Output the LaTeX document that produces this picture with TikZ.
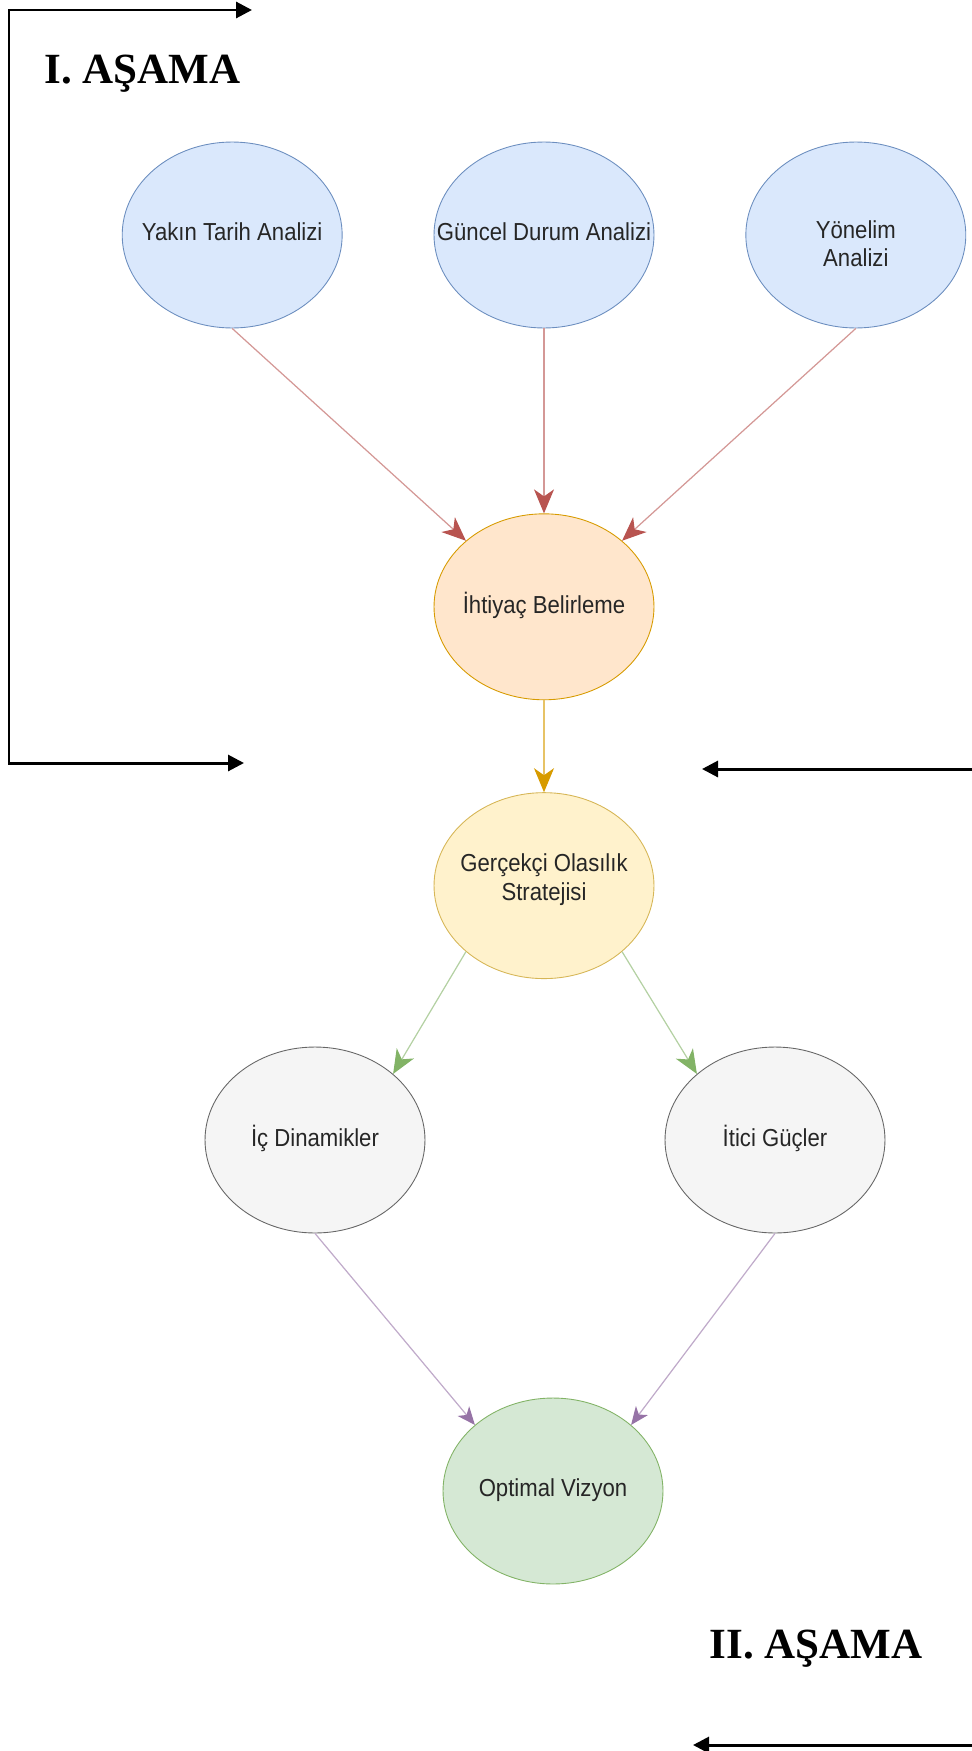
\documentclass[tikz,border=0pt]{standalone}
\usepackage{fontspec}
\setmainfont{Liberation Serif}
\newfontfamily\drawiofont[FakeStretch=0.9]{Liberation Sans}
\usetikzlibrary{positioning,arrows.meta,shapes.geometric}
\definecolor{blueFill}{HTML}{DAE8FC}
\definecolor{blueStroke}{HTML}{6C8EBF}
\definecolor{orangeFill}{HTML}{FFE6CC}
\definecolor{orangeStroke}{HTML}{D79B00}
\definecolor{yellowFill}{HTML}{FFF2CC}
\definecolor{yellowStroke}{HTML}{D6B656}
\definecolor{grayFill}{HTML}{F5F5F5}
\definecolor{grayStroke}{HTML}{666666}
\definecolor{greenFill}{HTML}{D5E8D4}
\definecolor{greenStroke}{HTML}{82B366}
\definecolor{redStroke}{HTML}{B85450}
\definecolor{purpleStroke}{HTML}{9673A6}
% text of a bubble takes no room, so the ellipse keeps its size
\newcommand{\bubtext}[2][0pt]{\makebox[0pt]{\raisebox{#1}[\height][\depth]{\begin{tabular}{@{}c@{}}#2\end{tabular}}}}
\tikzset{
  every picture/.style={
    line width=0.6pt
  },
  bubble/.style={
    ellipse, draw, line width=0.5pt,
    minimum width=4.4cm, minimum height=3.72cm, inner sep=0pt,
    font=\drawiofont\fontsize{14}{16}\selectfont, text=black!85
  },
  link/.style={
    draw=#1!60, line width=0.7pt,
    -{Stealth[length=0.48cm, width=0.4cm, inset=0.14cm, color=#1]}
  },
  smalllink/.style={
    draw=#1!60, line width=0.7pt,
    -{Stealth[length=0.36cm, width=0.3cm, inset=0.1cm, color=#1]}
  },
  stagearrow/.style={line width=1.7pt},
  stagetip/.style={-{Triangle[length=0.32cm, width=0.32cm]}},
  stagelabel/.style={inner sep=0pt, font=\fontsize{24.5}{28}\selectfont\bfseries}
}
\begin{document}
\begin{tikzpicture}[x=0.02cm, y=-0.02cm]
  \useasboundingbox (0,0) rectangle (972,1751);

  \node[bubble, fill=blueFill, draw=blueStroke] (guncel) at (544,235) {\bubtext{Güncel Durum Analizi}};
  \node[bubble, fill=blueFill, draw=blueStroke, left=1.82cm of guncel] (yakin) {\bubtext{Yakın Tarih Analizi}};
  \node[bubble, fill=blueFill, draw=blueStroke, right=1.82cm of guncel] (yonelim) {\bubtext[-7pt]{Yönelim\\ Analizi}};
  \node[bubble, fill=orangeFill, draw=orangeStroke, below=3.7cm of guncel] (ihtiyac) {\bubtext{İhtiyaç Belirleme}};
  \node[bubble, fill=yellowFill, draw=yellowStroke, below=1.84cm of ihtiyac] (gercekci) {\bubtext[3pt]{Gerçekçi Olasılık\\ Stratejisi}};
  \node[bubble, fill=grayFill, draw=grayStroke] (icdinamik) at (315,1140) {\bubtext{İç Dinamikler}};
  \node[bubble, fill=grayFill, draw=grayStroke] (itici) at (775,1140) {\bubtext{İtici Güçler}};
  \node[bubble, fill=greenFill, draw=greenStroke] (optimal) at (553,1491) {\bubtext{Optimal Vizyon}};

  \draw[link=redStroke] (yakin.south) -- (ihtiyac.north west);
  \draw[link=redStroke] (guncel) -- (ihtiyac);
  \draw[link=redStroke] (yonelim.south) -- (ihtiyac.north east);
  \draw[link=orangeStroke] (ihtiyac) -- (gercekci);
  \draw[link=greenStroke] (gercekci.south west) -- (icdinamik.north east);
  \draw[link=greenStroke] (gercekci.south east) -- (itici.north west);
  \draw[smalllink=purpleStroke] (icdinamik.south) -- (optimal.north west);
  \draw[smalllink=purpleStroke] (itici.south) -- (optimal.north east);

  % stage brackets
  \node[stagelabel, anchor=base west] (asamaone) at (44,83) {I. AŞAMA};
  \node[stagelabel, anchor=base west] (asamatwo) at (709,1658) {II. AŞAMA};
  \coordinate (topTip) at (252,10);
  \coordinate (topCorner) at (9,10);
  \coordinate (lowCorner) at (9,763);
  \coordinate (lowTip) at (244,763);
  \coordinate (midEnd) at (972,769);
  \coordinate (midTip) at (702,769);
  \coordinate (endEnd) at (972,1745);
  \coordinate (endTip) at (693,1745);
  \draw[stagearrow, {Triangle[length=0.32cm, width=0.32cm]}-{Triangle[length=0.32cm, width=0.32cm]}]
    (topTip) -- (topCorner) -- (lowCorner) -- (lowTip);
  \draw[stagearrow, stagetip] (midEnd) -- (midTip);
  \draw[stagearrow, stagetip] (endEnd) -- (endTip);
\end{tikzpicture}
\end{document}
